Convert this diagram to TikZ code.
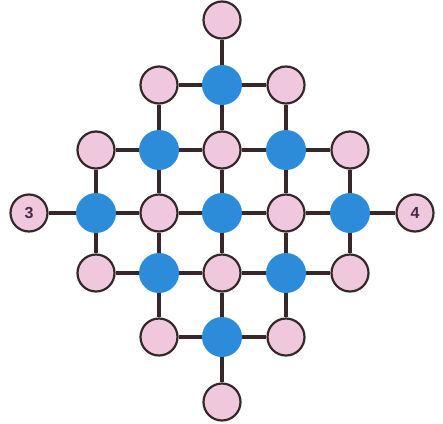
\documentclass[tikz,border=0pt]{standalone}
\usepackage{fontspec}
\setmainfont{Liberation Sans}
\usetikzlibrary{backgrounds}
\definecolor{pinkfill}{RGB}{240,200,222}
\definecolor{bluefill}{RGB}{44,140,218}
\definecolor{edgecol}{RGB}{52,40,42}
\definecolor{labcol}{RGB}{70,40,70}
\tikzset{
  pk/.style={circle, draw=edgecol, line width=2.2pt, fill=pinkfill, minimum size=37pt, inner sep=0pt, font=\bfseries\fontsize{16}{16}\selectfont, text=labcol},
  bl/.style={circle, fill=bluefill, minimum size=40pt, inner sep=0pt},
  link/.style={draw=edgecol, line width=3.5pt}
}
\begin{document}
\begin{tikzpicture}[x=1pt,y=-1pt]
\useasboundingbox (0,0) rectangle (443,423);
% columns
\def\ca{96}\def\cb{159}\def\cc{222}\def\cd{286}\def\ce{350}
\node[pk] (t) at (\cc,20) {};
\node[pk] (r1a) at (\cb,85) {};
\node[bl] (r1b) at (\cc,85) {};
\node[pk] (r1c) at (\cd,85) {};
\node[pk] (r2a) at (\ca,150) {};
\node[bl] (r2b) at (\cb,150) {};
\node[pk] (r2c) at (\cc,150) {};
\node[bl] (r2d) at (\cd,150) {};
\node[pk] (r2e) at (\ce,150) {};
\node[pk] (l3) at (29,213) {3};
\node[bl] (r3a) at (\ca,213) {};
\node[pk] (r3b) at (\cb,213) {};
\node[bl] (r3c) at (\cc,213) {};
\node[pk] (r3d) at (\cd,213) {};
\node[bl] (r3e) at (\ce,213) {};
\node[pk] (l4) at (415,213) {4};
\node[pk] (r4a) at (\ca,273) {};
\node[bl] (r4b) at (\cb,273) {};
\node[pk] (r4c) at (\cc,273) {};
\node[bl] (r4d) at (\cd,273) {};
\node[pk] (r4e) at (\ce,273) {};
\node[pk] (r5a) at (\cb,337) {};
\node[bl] (r5b) at (\cc,337) {};
\node[pk] (r5c) at (\cd,337) {};
\node[pk] (b) at (\cc,402) {};
\begin{scope}[on background layer]
\path[link] (t) -- (r1b);
\path[link] (r1a) -- (r1b) -- (r1c);
\path[link] (r1a) -- (r2b) (r1b) -- (r2c) (r1c) -- (r2d);
\path[link] (r2a) -- (r2b) -- (r2c) -- (r2d) -- (r2e);
\path[link] (r2a) -- (r3a) (r2b) -- (r3b) (r2c) -- (r3c) (r2d) -- (r3d) (r2e) -- (r3e);
\path[link] (l3) -- (r3a) -- (r3b) -- (r3c) -- (r3d) -- (r3e) -- (l4);
\path[link] (r3a) -- (r4a) (r3b) -- (r4b) (r3c) -- (r4c) (r3d) -- (r4d) (r3e) -- (r4e);
\path[link] (r4a) -- (r4b) -- (r4c) -- (r4d) -- (r4e);
\path[link] (r4b) -- (r5a) (r4c) -- (r5b) (r4d) -- (r5c);
\path[link] (r5a) -- (r5b) -- (r5c);
\path[link] (r5b) -- (b);
\end{scope}
\end{tikzpicture}
\end{document}
